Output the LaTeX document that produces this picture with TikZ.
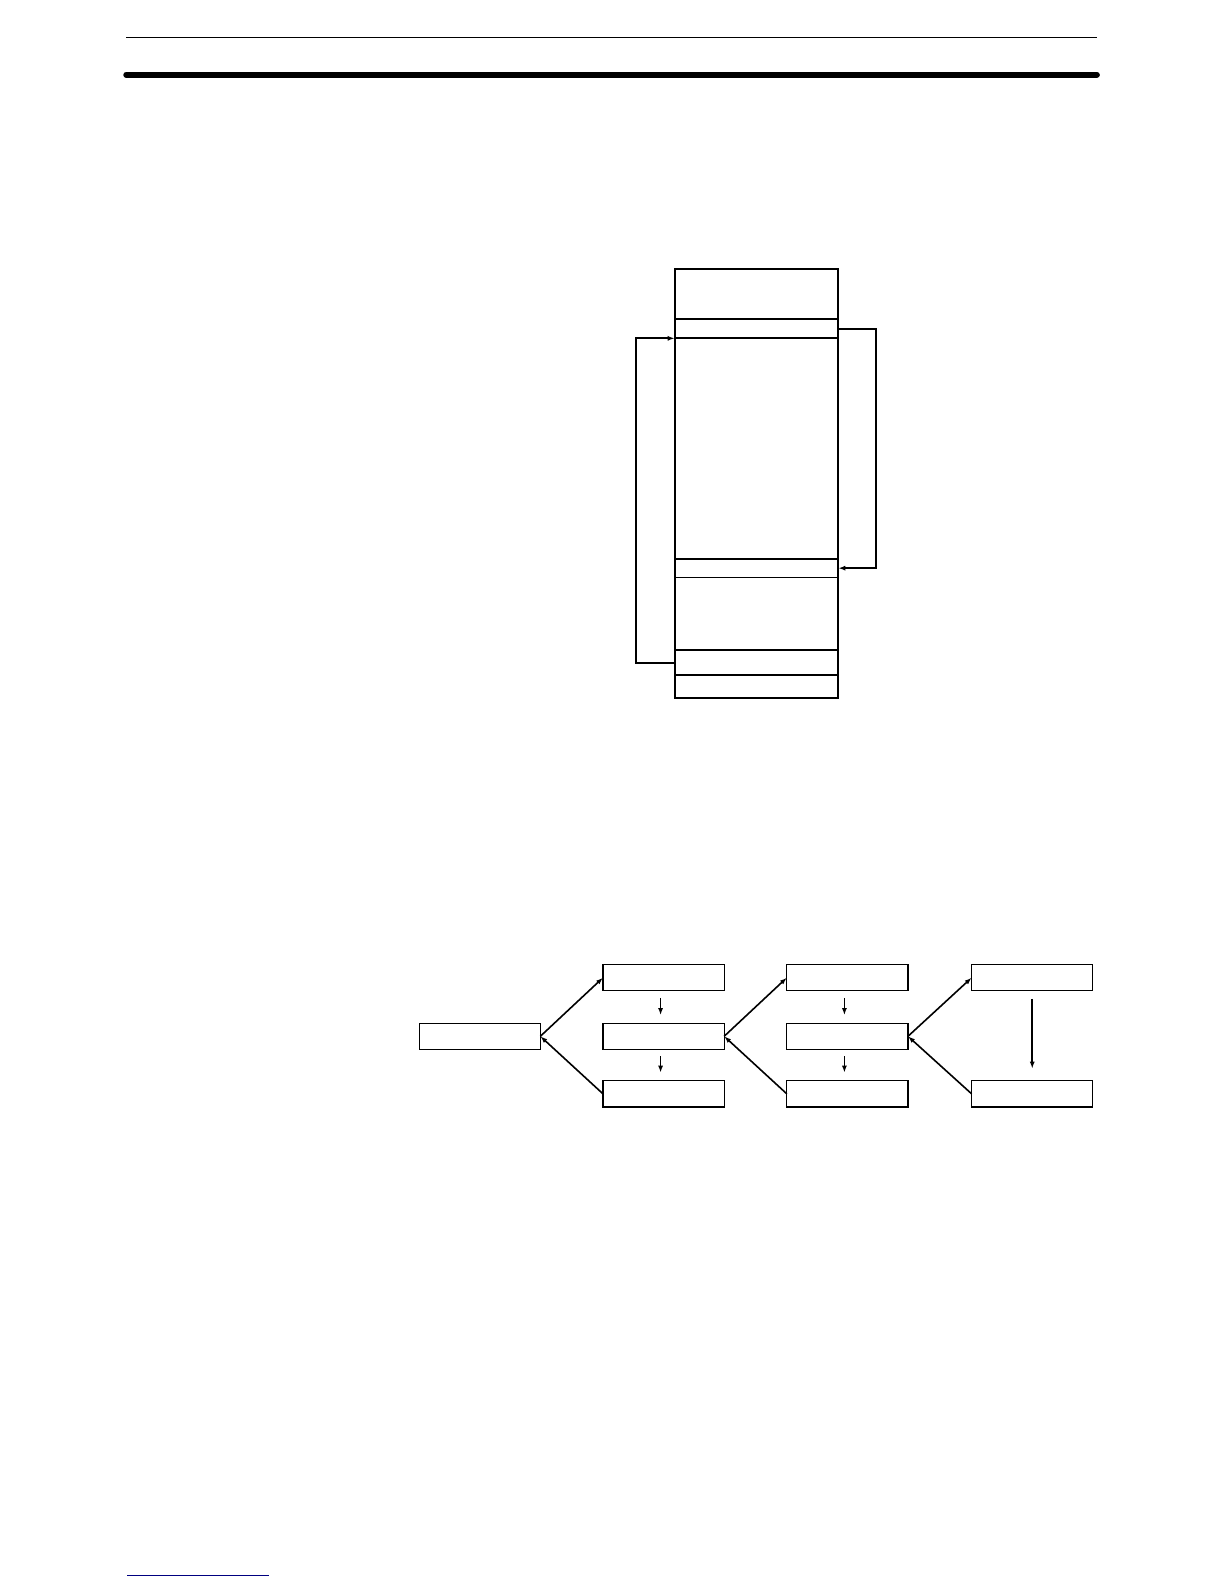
\documentclass[tikz,border=0pt]{standalone}
\usetikzlibrary{arrows.meta}
\tikzset{
  memcell/.style={minimum width=163.6bp,inner sep=0pt,outer sep=0pt},
  flowbox/.style={draw,line width=1.2pt,minimum width=121.2bp,minimum height=26.3bp,inner sep=0pt,outer sep=0pt},
  tip/.style={-{Latex[length=7pt,width=5pt]}}
}
\begin{document}
\begin{tikzpicture}[x=1.01bp,y=-1.01bp]
      \useasboundingbox (0,0) rectangle (1212,1568.3);
      % header rules
      \coordinate (hl) at (125,37);
      \coordinate (hr) at (1086,37);
      \coordinate (tl) at (125,74);
      \coordinate (tr) at (1086,74);
      \draw[line width=1.6pt] (hl) -- (hr);
      \draw[line width=6pt,line cap=round] (tl) -- (tr);
      % memory column
      \def \Cells{
        s1/266/316,
        s2/316/335,
        s3/335/553,
        s4/553/572,
        s5/572/644,
        s6/644/668,
        s7/668/691}
      \foreach \id / \top / \bot in \Cells{
        \pgfmathsetmacro{\h}{(\bot-\top)*1.01}
        \node[memcell,minimum height=\h bp] (\id) at (749, {(\top+\bot)/2}) {};
      }
      \draw[line width=2pt] (s1.north west) rectangle (s7.south east);
      \foreach \id in {s1,s2,s3,s5,s6}{
        \draw[line width=2pt] (\id.south west) -- (\id.south east);
      }
      \draw[line width=1.2pt] (s4.south west) -- (s4.south east);
      \draw[tip,line width=2pt] (s2.east) -- ++(37,0) |- (s4.east);
      \draw[tip,line width=2pt] (s6.west) -- ++(-38,0) |- (s3.north west);
      % flow boxes
      \def \Boxes{
        a/475/1026,
        b1/657/968,
        b2/657/1026,
        b3/657/1083,
        c1/839/968,
        c2/839/1026,
        c3/839/1083,
        d1/1022/968,
        d3/1022/1083}
      \foreach \id / \x / \y in \Boxes{
        \node[flowbox] (\id) at (\x, \y) {};
      }
      \foreach \x / \y in {a/b1, b2/c1, c2/d1}{
        \draw[tip,line width=1.6pt] (\x.east) -- (\y.west);
      }
      \foreach \x / \y in {b3/a, c3/b2, d3/c2}{
        \draw[tip,line width=1.6pt] (\x.west) -- (\y.east);
      }
      \foreach \x / \y in {b1/b2, b2/b3, c1/c2, c2/c3}{
        \draw[tip,line width=1.6pt] ([xshift=-3bp,yshift=-7bp]\x.south) -- ([xshift=-3bp,yshift=8bp]\y.north);
      }
      \draw[tip,line width=1.6pt] ([yshift=-8bp]d1.south) -- ([yshift=12bp]d3.north);
      % footer rule
      \coordinate (fl) at (126,1559.5);
      \coordinate (fr) at (266,1559.5);
      \draw[line width=1pt,blue!50!black] (fl) -- (fr);
    \end{tikzpicture}
\end{document}
